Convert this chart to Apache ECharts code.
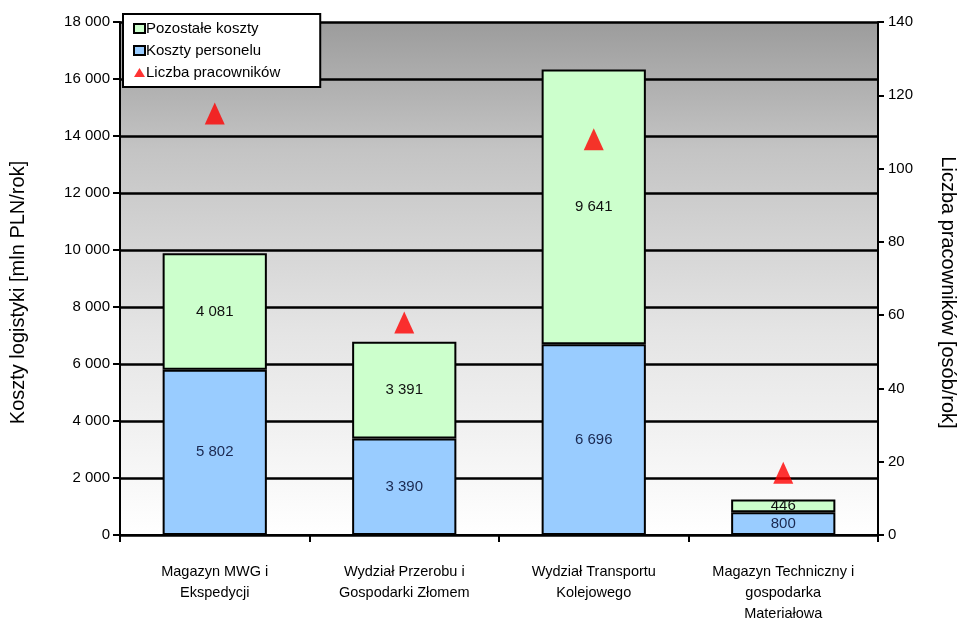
<!DOCTYPE html>
<html><head><meta charset="utf-8">
<script src="https://cdn.jsdelivr.net/npm/echarts@6/dist/echarts.min.js"></script>
<style>html,body{margin:0;padding:0;background:#fff}#c{width:961px;height:632px}</style>
</head><body><div id="c"></div>
<script>
const categories = ['Magazyn MWG i\nEkspedycji', 'Wydział Przerobu i\nGospodarki Złomem', 'Wydział Transportu\nKolejowego', 'Magazyn Techniczny i\ngospodarka\nMateriałowa'];
const personnelCosts = [5802, 3390, 6696, 800];
const otherCosts = [4081, 3391, 9641, 446];
const employees = [115, 58, 108, 17];
const leftTicks = [0, 18000, 2000];
const rightTicks = [0, 140, 20];

const FONT = '"Liberation Sans Narrow", "Liberation Sans", Arial, sans-serif';
const fmt = v => String(v).replace(/\B(?=(\d{3})+(?!\d))/g, ' ');

const chart = echarts.init(document.getElementById('c'));
chart.setOption({
  animation: false,
  textStyle: {fontFamily: FONT},
  grid: {left: 120, right: 83, top: 22, bottom: 97, show: true, borderWidth: 0, outerBoundsMode: 'none', containLabel: false,
    backgroundColor: new echarts.graphic.LinearGradient(0, 0, 0, 1, [
      {offset: 0, color: '#9c9c9c'}, {offset: 0.25, color: '#c4c4c4'}, {offset: 0.6, color: '#e4e4e4'}, {offset: 1, color: '#ffffff'}])},
  legend: {
    orient: 'vertical', left: 123, top: 14, width: 197, padding: [7, 40, 7, 10],
    backgroundColor: '#fff', borderColor: '#000', borderWidth: 2, itemGap: 7,
    itemWidth: 11, itemHeight: 9,
    textStyle: {fontFamily: FONT, fontSize: 15, color: '#000', padding: [0, 0, 0, -4]},
    data: [
      {name: 'Pozostałe koszty', icon: 'rect', itemStyle: {color: '#ccffcc', borderColor: '#000', borderWidth: 2}},
      {name: 'Koszty personelu', icon: 'rect', itemStyle: {color: '#99ccff', borderColor: '#000', borderWidth: 2}},
      {name: 'Liczba pracowników', icon: 'triangle', itemStyle: {color: '#ff0000'}}
    ]
  },
  xAxis: {
    type: 'category', data: categories,
    axisLine: {lineStyle: {color: '#000', width: 2}},
    axisTick: {show: true, length: 7, interval: 0, lineStyle: {color: '#000', width: 2}},
    axisLabel: {interval: 0, fontSize: 14.5, color: '#000', margin: 26, lineHeight: 21, fontFamily: FONT}
  },
  yAxis: [
    {type: 'value', min: leftTicks[0], max: leftTicks[1], interval: leftTicks[2],
     name: 'Koszty logistyki [mln PLN/rok]', nameLocation: 'middle', nameGap: 92, nameRotate: 90,
     nameTextStyle: {fontSize: 20, color: '#000', fontFamily: FONT, padding: [0, 0, 0, -28]},
     axisLine: {show: true, lineStyle: {color: '#000', width: 2}},
     axisTick: {show: true, length: 7, lineStyle: {color: '#000', width: 2}},
     axisLabel: {fontSize: 15, color: '#000', margin: 10, formatter: v => fmt(v)},
     splitLine: {show: true, lineStyle: {color: '#000', width: 2.5}}},
    {type: 'value', min: rightTicks[0], max: rightTicks[1], interval: rightTicks[2],
     name: 'Liczba pracowników [osób/rok]', nameLocation: 'middle', nameGap: 60, nameRotate: -90,
     nameTextStyle: {fontSize: 20, color: '#000', fontFamily: FONT, padding: [0, 0, 0, 28]},
     axisLine: {show: true, lineStyle: {color: '#000', width: 2}},
     axisTick: {show: true, length: 6, lineStyle: {color: '#000', width: 2}},
     axisLabel: {fontSize: 15, color: '#000', margin: 10},
     splitLine: {show: false}}
  ],
  series: [
    {name: 'Koszty personelu', type: 'bar', stack: 'c', data: personnelCosts, barWidth: '55%',
     itemStyle: {color: '#99ccff', borderColor: '#000', borderWidth: 2},
     label: {show: true, position: 'inside', fontSize: 15, color: '#1a2850', fontFamily: FONT, formatter: p => fmt(p.value)}},
    {name: 'Pozostałe koszty', type: 'bar', stack: 'c', data: otherCosts, barWidth: '55%',
     itemStyle: {color: '#ccffcc', borderColor: '#000', borderWidth: 2},
     label: {show: true, position: 'inside', fontSize: 15, color: '#111', fontFamily: FONT, formatter: p => fmt(p.value)}},
    {name: 'Liczba pracowników', type: 'scatter', yAxisIndex: 1, data: employees, symbol: 'triangle', symbolSize: [20, 22],
     itemStyle: {color: '#ff0000'}, z: 5}
  ]
});
</script></body></html>
